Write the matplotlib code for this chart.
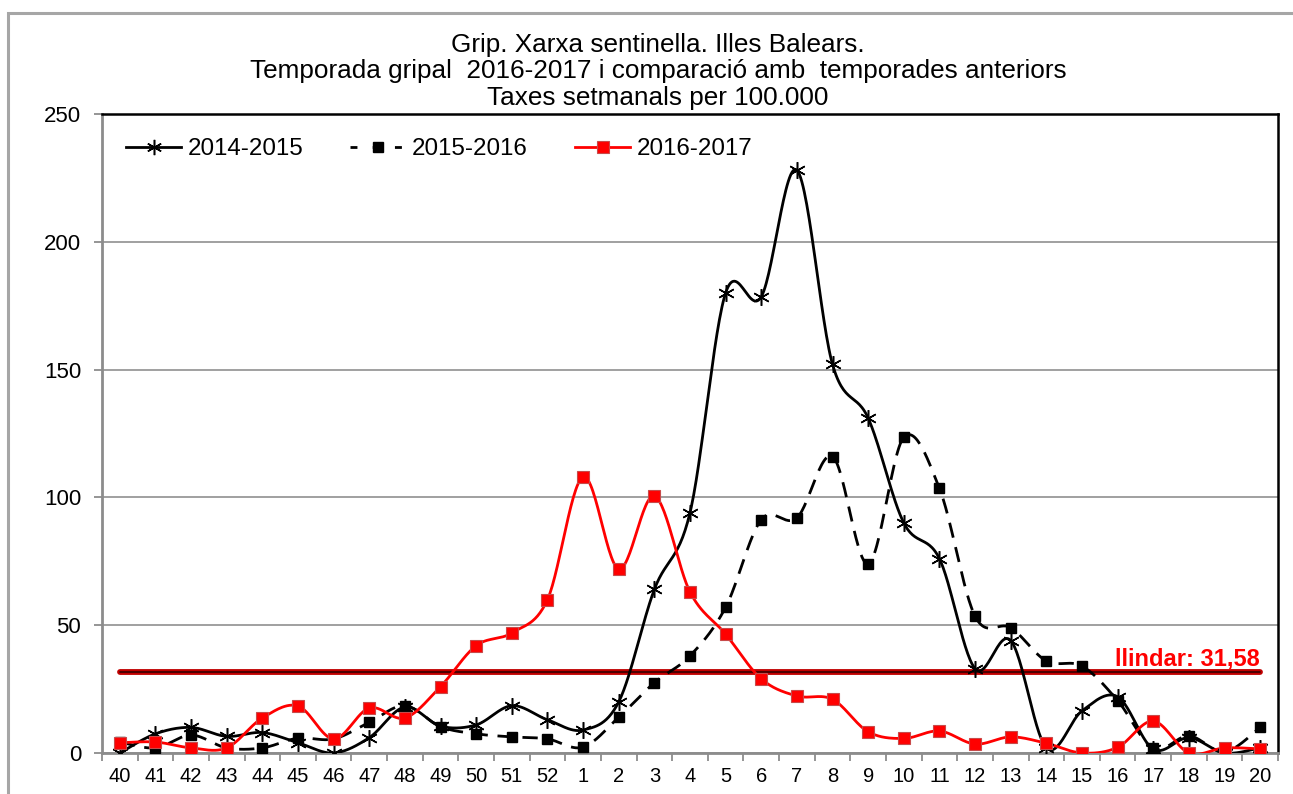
import numpy as np
import matplotlib
matplotlib.use("Agg")
import matplotlib.pyplot as plt
from matplotlib.patches import Rectangle
from matplotlib.lines import Line2D

plt.rcParams['font.family'] = ['Liberation Sans', 'DejaVu Sans']

weeks = ['40', '41', '42', '43', '44', '45', '46', '47', '48', '49', '50', '51', '52',
         '1', '2', '3', '4', '5', '6', '7', '8', '9', '10', '11', '12', '13', '14',
         '15', '16', '17', '18', '19', '20']

s2014_2015 = [0, 7.5, 10, 6.5, 8, 4, 0, 6, 18, 10.5, 11, 18.5, 13,
              9, 20, 64, 94, 180, 178.5, 228, 152, 131, 90, 76, 33, 44,
              2, 16.5, 22, 1.5, 6, 0, 2]
s2015_2016 = [4.3, 2, 7, 2, 2, 5.8, 5.5, 12, 18.5, 10.3, 7.5, 6.3, 5.5,
              2.3, 14, 27.5, 38, 57, 91.3, 92, 116, 74, 123.5, 103.5, 53.5, 49,
              36, 34, 20.5, 1.8, 6.7, 0.4, 10]
s2016_2017 = [4, 4.3, 2, 2, 13.7, 18.4, 5.5, 17.6, 13.7, 26, 42, 47, 60,
              108, 72, 100.5, 63, 46.5, 29, 22.3, 21, 8.3, 5.7, 8.6, 3.5, 6.3,
              3.8, 0, 2.2, 12.5, 0, 2, 1.6]
series_labels = ['2014-2015', '2015-2016', '2016-2017']
threshold = 31.58
threshold_label = 'llindar: 31,58'
title_lines = ['Grip. Xarxa sentinella. Illes Balears.',
               'Temporada gripal  2016-2017 i comparació amb  temporades anteriors',
               'Taxes setmanals per 100.000']


def smooth(x, y, n=30):
    x = np.asarray(x, float)
    y = np.asarray(y, float)
    P = np.column_stack([x, y])
    out = [P[0]]
    N = len(P)
    for i in range(N - 1):
        p0 = P[i - 1] if i > 0 else P[i]
        p1 = P[i]
        p2 = P[i + 1]
        p3 = P[i + 2] if i + 2 < N else P[i + 1]
        c1 = p1 + (p2 - p0) / 6.0
        c2 = p2 - (p3 - p1) / 6.0
        t = np.linspace(0, 1, n)[1:, None]
        seg = ((1 - t) ** 3) * p1 + 3 * ((1 - t) ** 2) * t * c1 + 3 * (1 - t) * t ** 2 * c2 + t ** 3 * p2
        out.extend(seg)
    out = np.array(out)
    return out[:, 0], out[:, 1]


W, H = 1293, 794
fig = plt.figure(figsize=(W / 100, H / 100), dpi=100)
ax = fig.add_axes([102 / W, 1 - 753 / H, (1278 - 102) / W, (753 - 114) / H])

# outer chart border (cropped)
fig.patches.append(Rectangle((8 / W, -0.1), 1.2, (1 - 13 / H) + 0.1, transform=fig.transFigure,
                             fill=False, edgecolor='#a6a6a6', linewidth=2.2, zorder=0))

x = np.arange(len(weeks))

# threshold line
ax.plot([x[0], x[-1]], [threshold, threshold], color='#c00000', lw=4.2,
        solid_capstyle='round', zorder=2)
ax.plot([x[0], x[-1]], [threshold, threshold], color='#3a0000', lw=1.2,
        solid_capstyle='round', zorder=2.1)
ax.text(x[-1], threshold + 2.6, threshold_label, color='#ff0000', fontsize=17,
        fontweight='bold', ha='right', va='baseline', zorder=6)

# 2014-2015
sx, sy = smooth(x, s2014_2015)
ax.plot(sx, sy, color='black', lw=2.0, zorder=3)
ax.plot(x, s2014_2015, ls='none', marker=(6, 2, 0), markersize=12, mew=1.1,
        color='black', zorder=4)

# 2015-2016
sx, sy = smooth(x, s2015_2016)
ax.plot(sx, sy, color='black', lw=2.0, ls=(0, (5.5, 3.5)), zorder=3)
ax.plot(x, s2015_2016, ls='none', marker='s', markersize=7, color='black', zorder=4)

# 2016-2017
sx, sy = smooth(x, s2016_2017)
ax.plot(sx, sy, color='#ff0000', lw=2.0, zorder=3.5)
ax.plot(x, s2016_2017, ls='none', marker='s', markersize=8.5, markerfacecolor='#ff0000',
        markeredgecolor='#c84a4a', mew=0.8, zorder=4.5)

# legend proxies
h1 = Line2D([], [], color='black', lw=2.0, marker=(6, 2, 0), markersize=11, mew=1.1)
h2 = Line2D([], [], color='black', lw=2.0, ls=(0, (2.5, 5.5)), marker='s', markersize=7)
h3 = Line2D([], [], color='#ff0000', lw=2.0, marker='s', markersize=8.5,
            markerfacecolor='#ff0000', markeredgecolor='#c84a4a', mew=0.8)
ax.legend([h1, h2, h3], series_labels, loc='upper left', bbox_to_anchor=(0.008, 0.985),
          ncol=3, frameon=False, fontsize=17.4, handlelength=2.3, handletextpad=0.25,
          columnspacing=1.95, borderaxespad=0.2)

ax.set_xlim(-0.5, len(weeks) - 0.5)
ax.set_ylim(0, 250)
ax.set_yticks([0, 50, 100, 150, 200, 250])
ax.set_xticks(x)
ax.set_xticklabels(weeks)
ax.set_xticks(np.arange(-0.5, len(weeks)), minor=True)
ax.tick_params(axis='x', which='major', length=0, labelsize=14.5, pad=10)
ax.tick_params(axis='x', which='minor', length=6, width=1.3, color='#8c8c8c', direction='out')
ax.tick_params(axis='y', which='major', length=6, width=1.3, color='#8c8c8c',
               labelsize=16, pad=9)

ax.grid(axis='y', color='#999999', lw=1.3)
ax.set_axisbelow(True)
for side in ['left', 'bottom']:
    ax.spines[side].set_color('#8c8c8c')
    ax.spines[side].set_linewidth(2)
for side in ['top', 'right']:
    ax.spines[side].set_color('black')
    ax.spines[side].set_linewidth(1.8)

ys = [45, 71, 98]
for t, yy in zip(title_lines, ys):
    fig.text(658 / W, 1 - yy / H, t, ha='center', va='center', fontsize=18.8)

fig.savefig('out.png', dpi=100)
